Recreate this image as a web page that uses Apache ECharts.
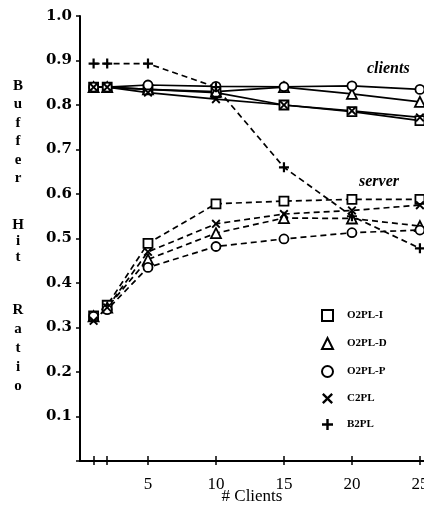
<!DOCTYPE html>
<html><head><meta charset="utf-8">
<script src="https://cdn.jsdelivr.net/npm/echarts@6/dist/echarts.min.js"></script>
<style>html,body{margin:0;padding:0;background:#fff}#c{width:424px;height:505px}</style>
</head><body><div id="c"></div>
<script>
var clients = [1, 2, 5, 10, 15, 20, 25];
var seriesNames = ['O2PL-I', 'O2PL-D', 'O2PL-P', 'C2PL', 'B2PL'];
// client buffer hit ratio (solid)
var clientO2PLI = [0.84, 0.84, 0.835, 0.828, 0.80, 0.785, 0.765];
var clientO2PLD = [0.84, 0.84, 0.835, 0.830, 0.840, 0.825, 0.807];
var clientO2PLP = [0.84, 0.84, 0.845, 0.842, 0.841, 0.843, 0.835];
var clientC2PL  = [0.84, 0.84, 0.828, 0.813, 0.800, 0.787, 0.772];
// server buffer hit ratio (dashed)
var serverO2PLI = [0.326, 0.350, 0.489, 0.578, 0.584, 0.588, 0.588];
var serverO2PLD = [0.325, 0.345, 0.453, 0.512, 0.546, 0.545, 0.528];
var serverO2PLP = [0.325, 0.340, 0.435, 0.482, 0.499, 0.513, 0.519];
var serverC2PL  = [0.315, 0.345, 0.470, 0.533, 0.555, 0.563, 0.575];
// B2PL (dashed)
var b2pl = [0.893, 0.893, 0.893, 0.840, 0.660, 0.550, 0.478];
var xTicks = [1, 2, 5, 10, 15, 20, 25];
var xLabels = [5, 10, 15, 20, 25];
var yTitleWords = ['Buffer', 'Hit', 'Ratio'];

var SERIF = '"Liberation Serif", "DejaVu Serif", serif';
var SERIF_W = '"DejaVu Serif", "Liberation Serif", serif';
var symX = 'path://M0,1.5 L1.5,0 L5,3.5 L8.5,0 L10,1.5 L6.5,5 L10,8.5 L8.5,10 L5,6.5 L1.5,10 L0,8.5 L3.5,5 Z';
var symPlus = 'path://M3.9,0 H6.1 V3.9 H10 V6.1 H6.1 V10 H3.9 V6.1 H0 V3.9 H3.9 Z';
var sym = {'O2PL-I': 'rect', 'O2PL-D': 'triangle', 'O2PL-P': 'circle', 'C2PL': symX, 'B2PL': symPlus};
var symSize = {'O2PL-I': 9, 'O2PL-D': 10, 'O2PL-P': 9, 'C2PL': 9, 'B2PL': 10};

function pairs(vals) { return clients.map(function (c, i) { return [c, vals[i]]; }); }
function mk(name, vals, dashed) {
  var filled = (name === 'C2PL' || name === 'B2PL');
  return {
    name: name, type: 'line', data: pairs(vals),
    symbol: sym[name], symbolSize: symSize[name], showSymbol: true,
    lineStyle: {color: '#000', width: 1.7, type: dashed ? [6, 4] : 'solid'},
    itemStyle: {color: filled ? '#000' : '#fff', borderColor: '#000', borderWidth: filled ? 0 : 1.8},
    animation: false, z: 3
  };
}

var series = [
  mk('O2PL-I', clientO2PLI, false), mk('O2PL-D', clientO2PLD, false),
  mk('O2PL-P', clientO2PLP, false), mk('C2PL', clientC2PL, false),
  mk('O2PL-I', serverO2PLI, true), mk('O2PL-D', serverO2PLD, true),
  mk('O2PL-P', serverO2PLP, true), mk('C2PL', serverC2PL, true),
  mk('B2PL', b2pl, true)
];

// vertical stacked y-axis title letters
var wordStart = [86, 225, 310];
var wordStep = [18.5, 16, 19];
var graphics = [];
yTitleWords.forEach(function (w, wi) {
  w.split('').forEach(function (ch, ci) {
    graphics.push({type: 'text', x: 18, y: wordStart[wi] + ci * wordStep[wi],
      style: {text: ch, fontFamily: SERIF, fontWeight: 'bold', fontSize: 15, fill: '#000',
        align: 'center', verticalAlign: 'middle'}});
  });
});
graphics.push({type: 'text', x: 367, y: 69, style: {text: 'clients', fontFamily: SERIF, fontStyle: 'italic', fontWeight: 'bold', fontSize: 16, fill: '#000', verticalAlign: 'middle'}});
graphics.push({type: 'text', x: 359, y: 182, style: {text: 'server', fontFamily: SERIF, fontStyle: 'italic', fontWeight: 'bold', fontSize: 16, fill: '#000', verticalAlign: 'middle'}});

var chart = echarts.init(document.getElementById('c'), null, {renderer: 'canvas'});
chart.setOption({
  backgroundColor: '#fff',
  animation: false,
  grid: {left: 80, right: 0, top: 16, bottom: 44, containLabel: false, outerBoundsMode: 'none'},
  xAxis: [{
    type: 'value', min: 0, max: 25.3, position: 'bottom',
    name: '# Clients', nameLocation: 'middle', nameGap: 27, nameMoveOverlap: false,
    nameTextStyle: {fontFamily: SERIF, fontSize: 17, color: '#000'},
    axisLine: {show: true, onZero: false, lineStyle: {color: '#000', width: 2}},
    axisTick: {show: true, inside: false, length: 4, customValues: xTicks, lineStyle: {color: '#000', width: 1.5}},
    axisLabel: {show: true, customValues: xLabels, margin: 15, fontFamily: SERIF, fontSize: 17, color: '#000'},
    splitLine: {show: false}
  }, {
    type: 'value', min: 0, max: 25.3, position: 'bottom',
    axisLine: {show: false},
    axisTick: {show: true, inside: true, length: 5, customValues: xTicks, lineStyle: {color: '#000', width: 1.5}},
    axisLabel: {show: false}, splitLine: {show: false}
  }],
  yAxis: {
    type: 'value', min: 0, max: 1.0, interval: 0.1,
    axisLine: {show: true, onZero: false, lineStyle: {color: '#000', width: 2}},
    axisTick: {show: true, inside: false, length: 4, lineStyle: {color: '#000', width: 1.5}},
    axisLabel: {margin: 8, fontFamily: SERIF_W, fontWeight: 'bold', fontSize: 15, color: '#000',
      formatter: function (v) { return v === 0 ? '' : v.toFixed(1); }},
    splitLine: {show: false}
  },
  legend: {
    orient: 'vertical', left: 316, top: 304, itemWidth: 11, itemHeight: 11, itemGap: 15,
    selectedMode: false,
    data: seriesNames.map(function (n) { return {name: n, icon: sym[n]}; }),
    textStyle: {fontFamily: SERIF, fontWeight: 'bold', fontSize: 11, color: '#000', padding: [0, 0, 0, 9]}
  },
  graphic: graphics,
  series: series
});
</script></body></html>
